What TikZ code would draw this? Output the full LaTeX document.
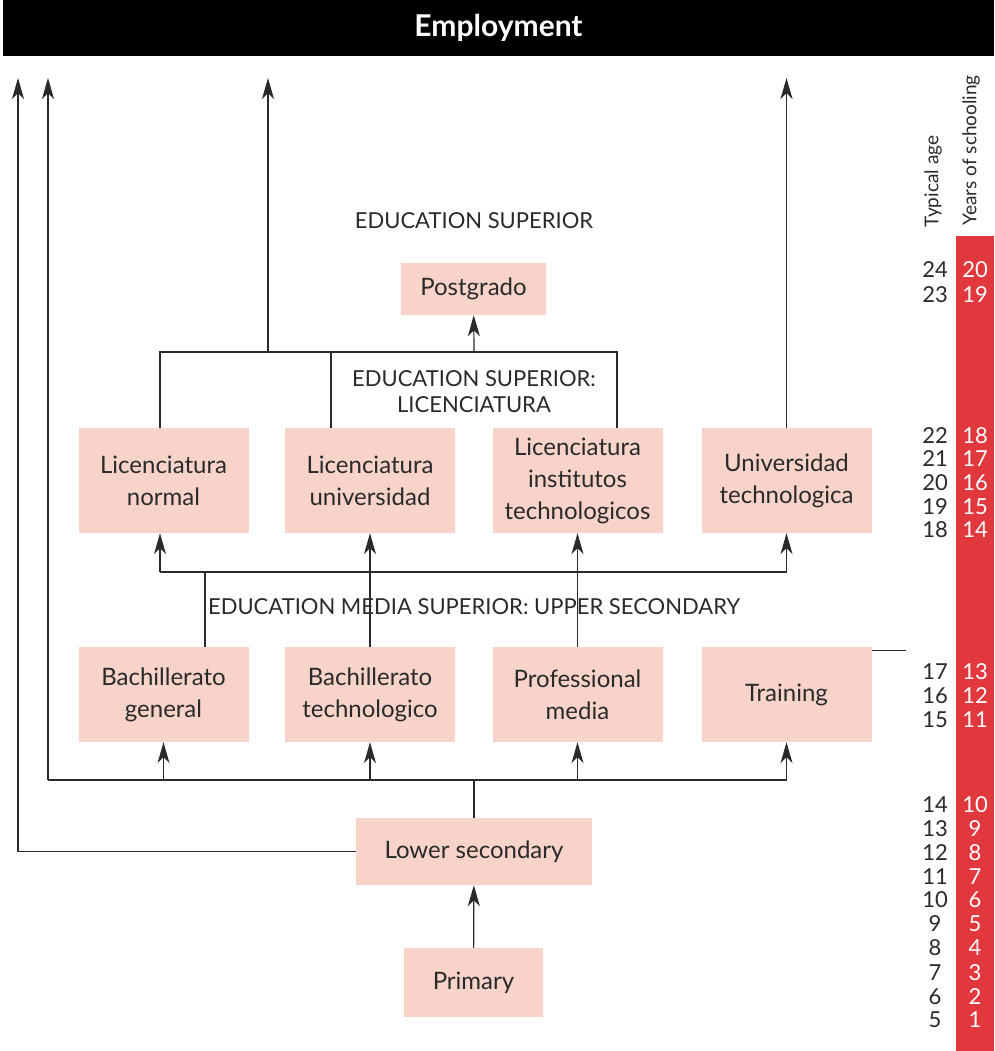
\documentclass[tikz,border=0pt]{standalone}
\usepackage{fontspec}
\setmainfont{Lato}
\usetikzlibrary{arrows.meta,positioning}
\definecolor{boxpink}{HTML}{F8D3C9}
\definecolor{colred}{HTML}{E1383E}
\definecolor{inkgray}{HTML}{2A2A2A}

\begin{document}
\begin{tikzpicture}[x=1pt,y=-1pt,
  level/.style={rectangle, fill=boxpink, minimum width=170pt, minimum height=95pt,
                align=center, inner sep=2pt, text=inkgray, font=\fontsize{24}{32}\selectfont},
  heading/.style={align=center, text=inkgray, font=\fontsize{22}{26}\selectfont},
  figure/.style={text=inkgray, font=\fontsize{22}{24}\selectfont},
  side/.style={text=inkgray, rotate=90, anchor=west, font=\fontsize{19}{22}\selectfont},
  line/.style={draw=inkgray, line width=1.2pt},
  arrow/.style={line, -{Stealth[length=21pt,width=12pt,inset=6pt]}}
]
  \useasboundingbox (0,0) rectangle (994,1051);

  % Employment bar and schooling column
  \node[fill=black, text=white, minimum width=991pt, minimum height=56pt,
        font=\fontsize{30}{34}\selectfont\bfseries] (emp) at (498.5,28) {Employment};
  \fill[colred] (956,236) rectangle (994,1051);

  % Nodes
  \node[level, minimum width=145pt, minimum height=52pt] (post) at (473.5,289) {Postgrado};
  \node[level, minimum height=105pt] (lnorm) at (163.5,480.5) {Licenciatura\\normal};
  \node[level, minimum height=105pt] (luniv) at (370,480.5)   {Licenciatura\\universidad};
  \node[level, minimum height=105pt] (linst) at (577.5,480.5) {Licenciatura\\institutos\\technologicos};
  \node[level, minimum height=105pt] (utec)  at (786.5,480.5) {Universidad\\technologica};
  \node[level] (bgen)  at (163.5,694.5) {Bachillerato\\general};
  \node[level] (btec)  at (370,694.5)   {Bachillerato\\technologico};
  \node[level] (pmed)  at (577.5,694.5) {Professional\\media};
  \node[level] (train) at (786.5,694.5) {Training};
  \node[level, minimum width=236pt, minimum height=67pt] (lsec) at (474,851.5) {Lower secondary};
  \node[level, minimum width=139pt, minimum height=69pt] (prim) at (473.5,982.5) {Primary};

  % Level labels
  \node[heading] (lblsup) at (474,221) {EDUCATION SUPERIOR};
  \node[heading] (lbllic) at (474,392) {EDUCATION SUPERIOR:\\LICENCIATURA};
  \node[heading] (lblmed) at (474,607) {EDUCATION MEDIA SUPERIOR: UPPER SECONDARY};

  % Exits to employment
  \coordinate (up1) at (18,78);
  \coordinate (up2) at (48,78);
  \coordinate (up3) at (268,78);
  \coordinate (up4) at (786.5,78);
  \coordinate (bus1) at (474,780);
  \coordinate (bus2) at (474,572);
  \coordinate (bus3) at (474,352);

  % Primary to lower secondary
  \draw[arrow] (prim) -- (lsec);
  \draw[arrow] (lsec.west) -| (up1);

  % Lower secondary to upper secondary
  \draw[line] (lsec.north) -- (bus1);
  \draw[line] (up2 |- bus1) -- (train.south |- bus1);
  \draw[arrow] (up2 |- bus1) -- (up2);
  \foreach \n in {bgen,btec,pmed,train}
    \draw[arrow] (\n.south |- bus1) -- (\n.south);
  \draw[line] (train.north east) ++(0,4) -- ++(34,0);

  % Upper secondary to licenciatura
  \draw[line] ([xshift=-3.5pt]lnorm.south |- bus2) -- (utec.south |- bus2);
  \draw[line] ([xshift=41.5pt]bgen.north) -- ([xshift=41.5pt]bgen.north |- bus2);
  \draw[line] (btec.north) -- (btec.north |- bus2);
  \draw[line] (pmed.north) -- (pmed.north |- bus2);
  \draw[arrow] ([xshift=-3.5pt]lnorm.south |- bus2) -- ([xshift=-3.5pt]lnorm.south);
  \foreach \n in {luniv,linst,utec}
    \draw[arrow] (\n.south |- bus2) -- (\n.south);

  % Licenciatura to postgrado and employment
  \draw[line] ([xshift=-3.5pt]lnorm.north) -- ([xshift=-3.5pt]lnorm.north |- bus3)
              -- ([xshift=39.5pt]linst.north |- bus3) -- ([xshift=39.5pt]linst.north);
  \draw[line] ([xshift=-39pt]luniv.north) -- ([xshift=-39pt]luniv.north |- bus3);
  \draw[arrow] (bus3) -- (post);
  \draw[arrow] (up3 |- bus3) -- (up3);
  \draw[arrow] (utec) -- (up4);

  % Typical age and years of schooling
  \node[side] (agehd) at (933,231) {Typical age};
  \node[side] (yrshd) at (971,229) {Years of schooling};
  \foreach \age/\yr/\y in {24/20/270, 23/19/295, 22/18/436, 21/17/459, 20/16/483,
      19/15/507, 18/14/530, 17/13/672, 16/12/696, 15/11/720, 14/10/805, 13/9/829,
      12/8/853, 11/7/877, 10/6/900, 9/5/924, 8/4/948, 7/3/973, 6/2/997, 5/1/1020}{
    \node[figure] (age\age) at (935,\y) {\age};
    \node[figure, text=white] (yr\yr) at (975,\y) {\yr};
  }
\end{tikzpicture}
\end{document}
